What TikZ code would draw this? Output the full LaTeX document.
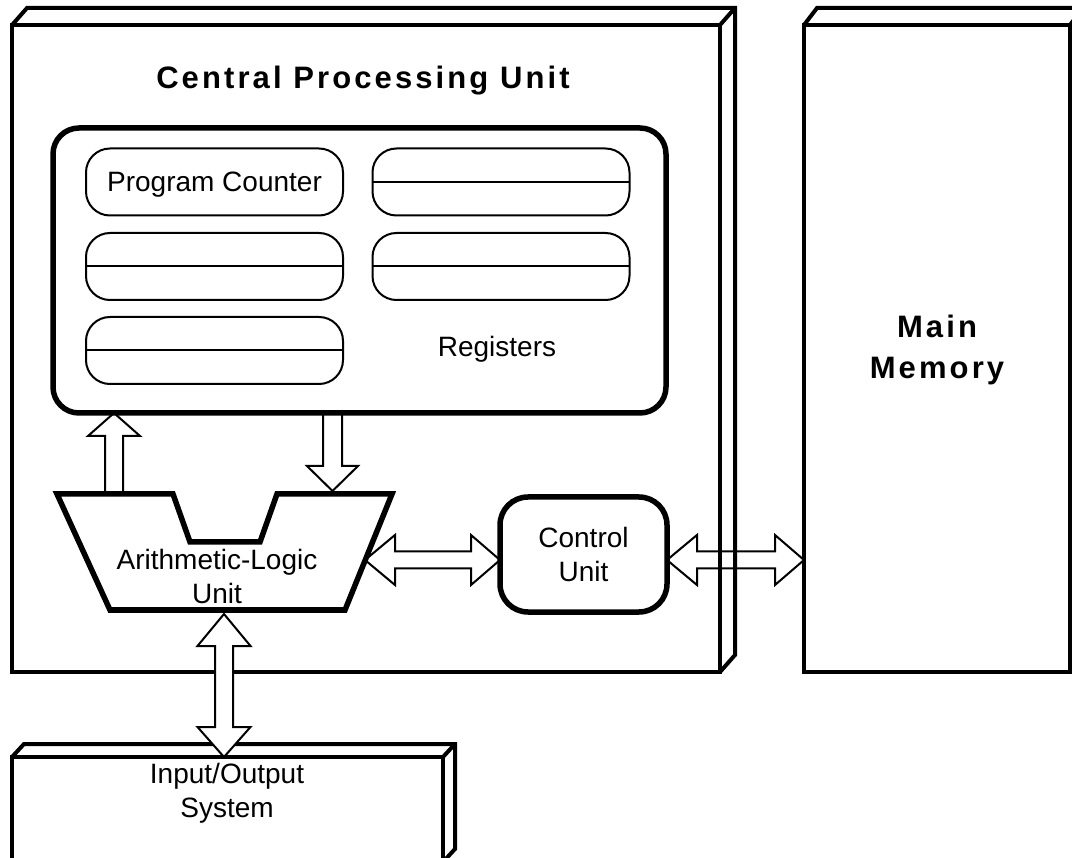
\documentclass[tikz,border=0pt]{standalone}
\usepackage{fontspec}
\setmainfont{Liberation Sans}
\newfontfamily\headfont[LetterSpace=10]{Liberation Sans}
\usetikzlibrary{calc}
\tikzset{
  box3d/.style={draw, line width=4pt, inner sep=0pt, outer sep=0pt},
  edge3d/.style={line width=4pt, line join=miter},
  regbox/.style={draw, line width=2pt, rounded corners=24pt, minimum width=257pt, minimum height=67pt, inner sep=0pt, outer sep=0pt, font=\fontsize{28}{34}\selectfont},
  regline/.style={line width=2pt},
  thickround/.style={draw, line width=5.5pt, inner sep=0pt, outer sep=0pt},
  lbl/.style={font=\fontsize{28}{34}\selectfont, align=center, inner sep=0pt},
  head/.style={font=\headfont\bfseries\fontsize{31}{41}\selectfont, align=center, inner sep=0pt},
  barrow/.style={draw, line width=2pt, line join=miter},
  aluline/.style={line width=5.5pt, line join=miter}
}
\newcommand\hdarrow[3][]{%
  \draw[barrow,#1] let \p1=(#2), \p2=(#3) in
  (\x1,\y1) -- (\x1+30pt,\y1+25pt) -- (\x1+30pt,\y1+8.5pt) -- (\x2-29pt,\y1+8.5pt) -- (\x2-29pt,\y1+25pt) -- (\x2,\y1)
  -- (\x2-29pt,\y1-25pt) -- (\x2-29pt,\y1-8.5pt) -- (\x1+30pt,\y1-8.5pt) -- (\x1+30pt,\y1-25pt) -- cycle;}
\newcommand\vdarrow[3][]{%
  \draw[barrow,#1] let \p1=(#2), \p2=(#3) in
  (\x1,\y1) -- (\x1+26.5pt,\y1-32pt) -- (\x1+9pt,\y1-32pt) -- (\x1+9pt,\y2+30pt) -- (\x1+26.5pt,\y2+30pt) -- (\x1,\y2)
  -- (\x1-26.5pt,\y2+30pt) -- (\x1-9pt,\y2+30pt) -- (\x1-9pt,\y1-32pt) -- (\x1-26.5pt,\y1-32pt) -- cycle;}
\begin{document}
\begin{tikzpicture}[x=1pt,y=-1pt]
\useasboundingbox (0,0) rectangle (1072,858);
% Central Processing Unit
\node[box3d, minimum width=708pt, minimum height=647pt] (cpu) at (366,348.5) {};
\draw[edge3d] (cpu.north west) -- ++(15,-17) -- ($(cpu.north east)+(15,-17)$) -- ($(cpu.south east)+(15,-17)$) -- (cpu.south east);
\draw[edge3d] (cpu.north east) -- ++(15,-17);
\node[head, anchor=base] (cputitle) at (363,88.5) {Central Processing Unit};
% Main Memory
\node[box3d, minimum width=266pt, minimum height=647pt] (mem) at (937,348.5) {};
\draw[edge3d] (mem.north west) -- ++(13,-17) -- ($(mem.north east)+(13,-17)$) -- ($(mem.south east)+(13,-17)$) -- (mem.south east);
\draw[edge3d] (mem.north east) -- ++(13,-17);
\node[head] (memlabel) at (937,350) {Main\\Memory};
% Input/Output System
\node[box3d, minimum width=431pt, minimum height=105pt] (io) at (227.5,809.5) {};
\draw[edge3d] (io.north west) -- ++(12,-13) -- ($(io.north east)+(12,-13)$) -- ($(io.south east)+(12,-13)$) -- (io.south east);
\draw[edge3d] (io.north east) -- ++(12,-13);
\node[lbl] (iolabel) at (227,793) {Input/Output\\System};
% Registers
\node[thickround, rounded corners=26pt, minimum width=613pt, minimum height=285pt] (regs) at (359.5,270.5) {};
\node[regbox, text height=23pt, text depth=3pt] (r1) at (214.5,182) {Program Counter};
\node[regbox] (r2) at (501,182) {};
\node[regbox] (r3) at (214.5,266.5) {};
\node[regbox] (r4) at (501,266.5) {};
\node[regbox] (r5) at (214.5,350.5) {};
\foreach \r in {r2,r3,r4,r5} \draw[regline] (\r.west) -- (\r.east);
\node[lbl, anchor=base] (reglabel) at (497,357) {Registers};
% ALU
\coordinate (alu-tl) at (57,494);
\coordinate (alu-n1) at (173,494);
\coordinate (alu-n2) at (190,542);
\coordinate (alu-n3) at (260,542);
\coordinate (alu-n4) at (277,494);
\coordinate (alu-tr) at (392,494);
\coordinate (alu-br) at (345,610);
\coordinate (alu-bl) at (110,610);
\draw[aluline] (alu-tl) -- (alu-n1) -- (alu-n2) -- (alu-n3) -- (alu-n4) -- (alu-tr) -- (alu-br) -- (alu-bl) -- cycle;
\node[lbl] (alu) at (217,576) {Arithmetic-Logic\\Unit};
% Control Unit
\node[thickround, rounded corners=28pt, minimum width=167pt, minimum height=115pt, lbl] (cu) at (583.5,554.5) {Control\\Unit};
% arrows registers <-> ALU
\coordinate (upbase) at (114,494);
\coordinate (uptip) at (upbase |- regs.south);
\draw[barrow] let \p1=(upbase), \p2=(uptip) in
  (\x2,\y2) -- (\x2+26pt,\y2-23pt) -- (\x2+9pt,\y2-23pt) -- (\x1+9pt,\y1) -- (\x1-9pt,\y1) -- (\x2-9pt,\y2-23pt) -- (\x2-26pt,\y2-23pt) -- cycle;
\coordinate (dntip) at (332.5,491);
\coordinate (dnbase) at (dntip |- regs.south);
\draw[barrow] let \p1=(dnbase), \p2=(dntip) in
  (\x2,\y2) -- (\x2+25.5pt,\y2+25pt) -- (\x2+9.5pt,\y2+25pt) -- (\x1+9.5pt,\y1) -- (\x1-9.5pt,\y1) -- (\x2-9.5pt,\y2+25pt) -- (\x2-25.5pt,\y2+25pt) -- cycle;
% ALU <-> Control Unit
\coordinate (aluedge) at (365,560);
\coordinate (cuwest) at (cu.west |- aluedge);
\hdarrow{aluedge}{cuwest}
% Control Unit <-> Main Memory
\coordinate (cueast) at (cu.east |- aluedge);
\coordinate (memwest) at (mem.west |- aluedge);
\hdarrow{cueast}{memwest}
% ALU <-> I/O
\coordinate (alubot) at (224,614);
\coordinate (iotop) at (alubot |- io.north);
\vdarrow[fill=white]{alubot}{iotop}
\end{tikzpicture}
\end{document}
